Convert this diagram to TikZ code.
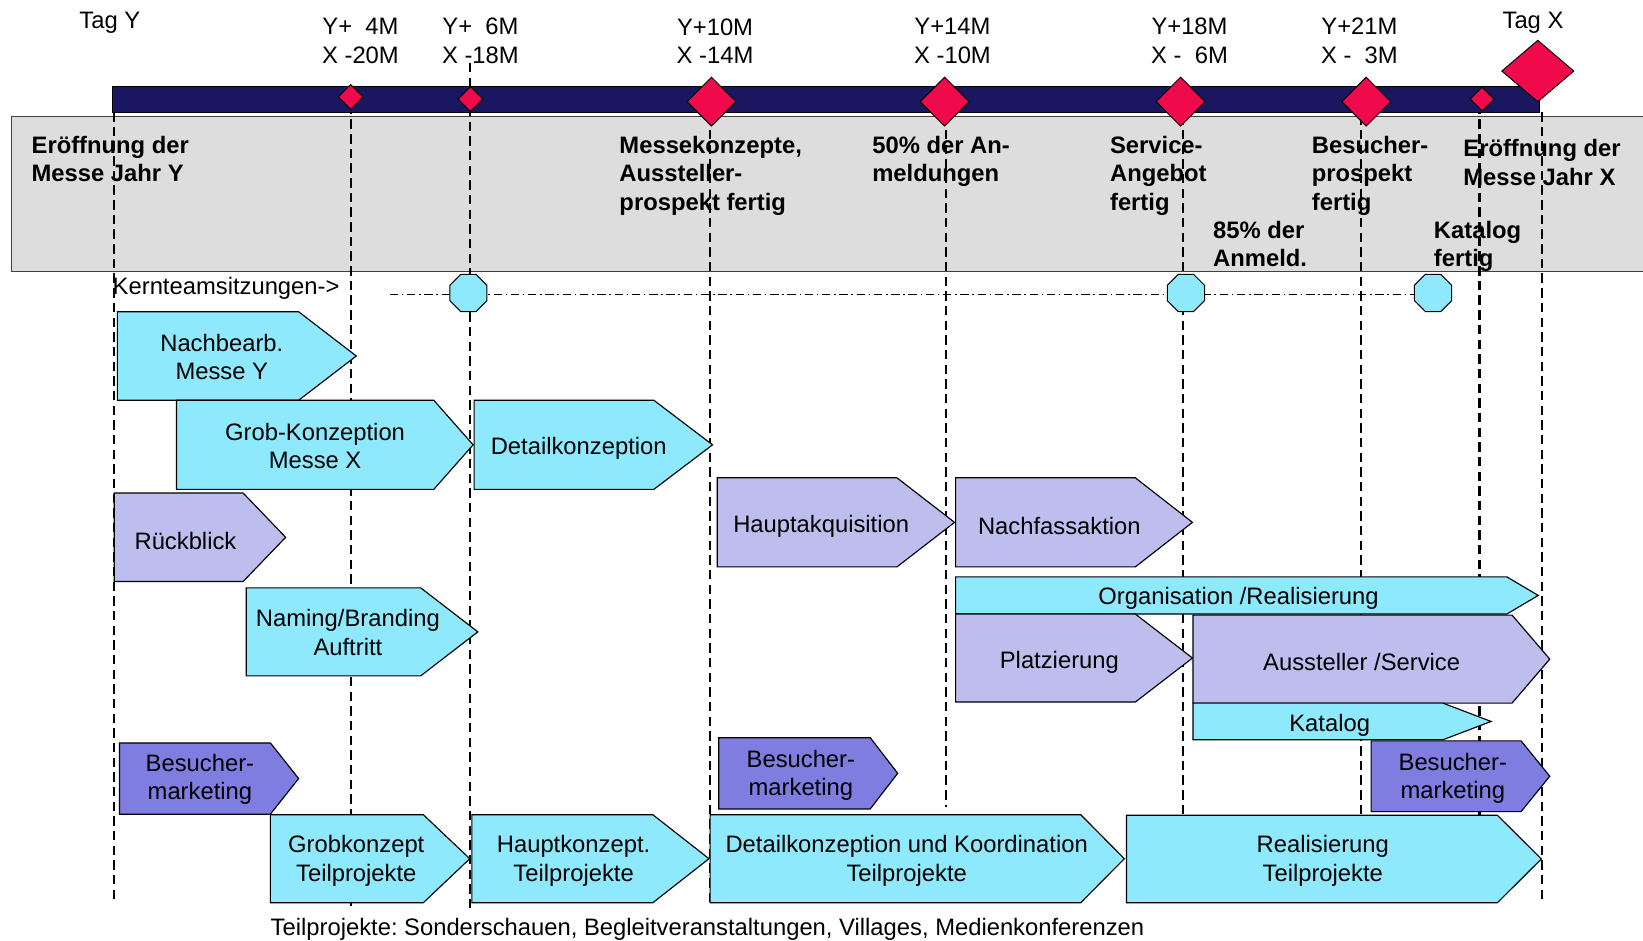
\documentclass[tikz,border=0pt]{standalone}
\usepackage{fontspec}
\setmainfont{Liberation Sans}
\usetikzlibrary{shapes.geometric}

\definecolor{barnavy}{RGB}{27,22,96}
\definecolor{mscrimson}{RGB}{240,10,75}
\definecolor{phcyan}{RGB}{143,233,253}
\definecolor{phlav}{RGB}{190,190,238}
\definecolor{phpurple}{RGB}{128,125,225}
\definecolor{panelgray}{RGB}{221,221,221}

% phase arrow: style, left, top, bottom, shoulder x, tip x
\newcommand{\phasearrow}[6]{%
  \path[#1] (#2,#3) -- (#5,#3) -- (#6,{(#3+#4)/2}) -- (#5,#4) -- (#2,#4) -- cycle;}

\begin{document}
\frenchspacing
\begin{tikzpicture}[x=1pt, y=-1pt,
  font=\fontsize{22.7}{27}\selectfont,
  panel/.style={fill=panelgray, draw=black!75, line width=0.8pt},
  timebar/.style={fill=barnavy, draw=black, line width=1.2pt},
  milestone/.style={diamond, fill=mscrimson, draw=black, line width=0.9pt,
    inner sep=0pt, minimum width=#1, minimum height=#1},
  guide/.style={draw=black, line width=2.2pt, dash pattern=on 9pt off 5pt},
  meetline/.style={draw=black, line width=1pt, dash pattern=on 8pt off 3.5pt on 1.5pt off 3.5pt},
  meeting/.style={regular polygon, regular polygon sides=8, minimum size=38.4pt,
    inner sep=0pt, fill=phcyan, draw=black, line width=1pt},
  cyanph/.style={fill=phcyan, draw=black, line width=1.1pt},
  lavph/.style={fill=phlav, draw=black, line width=1.1pt},
  purpph/.style={fill=phpurple, draw=black, line width=1.1pt},
  phtext/.style={align=center, inner sep=0pt, anchor=center, yshift=-2pt},
  tick/.style={align=center, inner sep=0pt, anchor=center},
  note/.style={align=left, inner sep=0pt, anchor=base west, font=\fontsize{22.7}{27}\selectfont\bfseries},
]
\useasboundingbox (0,0) rectangle (1568,898);

% milestone panel
\path[panel] (11,111) rectangle (1575,259);

% vertical guide lines of the milestones
\coordinate (gY)   at (108.5,107);  \coordinate (gYb)  at (108.5,862);
\coordinate (g4)   at (334.7,100);  \coordinate (g4b)  at (334.7,865);
\coordinate (g6)   at (448.5,60);   \coordinate (g6b)  at (448.5,870);
\coordinate (g10)  at (677.5,110);  \coordinate (g10b) at (677.5,864);
\coordinate (g14)  at (902.5,110);  \coordinate (g14b) at (902.5,770);
\coordinate (g18)  at (1129,110);   \coordinate (g18b) at (1129,865);
\coordinate (g21)  at (1299,110);   \coordinate (g21b) at (1299,780);
\coordinate (gK)   at (1412,100);   \coordinate (gKb)  at (1412,790);
\coordinate (gX)   at (1471.5,107); \coordinate (gXb)  at (1471.5,860);
\foreach \a/\b in {gY/gYb, g4/g4b, g6/g6b, g10/g10b, g14/g14b, g18/g18b, g21/g21b, gK/gKb, gX/gXb}
  \path[guide] (\a) -- (\b);

% time bar and milestones
\path[timebar] (107.4,82.7) rectangle (1469.4,107.2);
\node[milestone=24pt] (m4)  at (334.7,92.5) {};
\node[milestone=24pt] (m6)  at (449,94.5) {};
\node[milestone=47pt] (m10) at (679,97) {};
\node[milestone=47pt] (m14) at (901.5,97) {};
\node[milestone=47pt] (m18) at (1126.7,97) {};
\node[milestone=47pt] (m21) at (1303.8,97) {};
\node[milestone=23pt] (mK)  at (1414.4,94.5) {};
\node[milestone=47pt, minimum width=69pt, minimum height=59pt] (mX) at (1467.6,67.8) {};

% time labels
\node[tick] (tY)   at (104.8,21.5) {Tag Y};
\node[tick] (t4)   at (344,39) {Y+~ 4M\\X -20M};
\node[tick] (t6)   at (458.5,39) {Y+~ 6M\\X -18M};
\node[tick] (t10)  at (682.4,39) {Y+10M\\X -14M};
\node[tick] (t14)  at (909,39) {Y+14M\\X -10M};
\node[tick] (t18)  at (1135.2,39) {Y+18M\\X -~ 6M};
\node[tick] (t21)  at (1297.4,39) {Y+21M\\X -~ 3M};
\node[tick] (tX)   at (1463,21.5) {Tag X};

% milestone descriptions (anchored at the baseline of their last line)
\node[note] (nY)   at (30,173.5)    {Eröffnung der\\Messe Jahr Y};
\node[note] (n10)  at (591,200.5)   {Messekonzepte,\\Aussteller-\\prospekt fertig};
\node[note] (n14)  at (832.3,173.5) {50\% der An-\\meldungen};
\node[note] (n18)  at (1059.2,200.5){Service-\\Angebot\\fertig};
\node[note] (n85)  at (1157.6,254.5){85\% der\\Anmeld.};
\node[note] (n21)  at (1251.8,200.5){Besucher-\\prospekt\\fertig};
\node[note] (nX)   at (1396.4,176.7){Eröffnung der\\Messe Jahr X};
\node[note] (nK)   at (1368.3,254.5){Katalog\\fertig};

% core team meetings
\node[anchor=base west, inner sep=0pt] (kt) at (107.4,281.5) {Kernteamsitzungen->};
\coordinate (ktA) at (372,281);
\coordinate (ktB) at (1350,281);
\path[meetline] (ktA) -- (ktB);
\node[meeting] (k1) at (447,279.6) {};
\node[meeting] (k2) at (1131.8,279.6) {};
\node[meeting] (k3) at (1367.6,279.6) {};

% phases
\phasearrow{cyanph}{112}{297.5}{382}{285}{340}
\node[phtext] (p1) at (211.7,339) {Nachbearb.\\Messe Y};
\phasearrow{cyanph}{168.5}{382}{467}{414}{451.5}
\node[phtext] (p2) at (300.7,423.5) {Grob-Konzeption\\Messe X};
\phasearrow{cyanph}{452.5}{382}{467}{624}{680}
\node[phtext] (p3) at (552.3,426) {Detailkonzeption};
\phasearrow{lavph}{109}{470.5}{555}{232}{272.6}
\node[phtext] (p4) at (177,514.5) {Rückblick};
\phasearrow{cyanph}{235}{561}{645}{401.5}{456}
\node[phtext] (p5) at (332,601.6) {Naming/Branding\\Auftritt};
\phasearrow{lavph}{684.5}{456}{541}{856}{911}
\node[phtext] (p6) at (783.7,500.5) {Hauptakquisition};
\phasearrow{lavph}{912}{456}{541}{1083.5}{1138}
\node[phtext] (p7) at (1011,500) {Nachfassaktion};
\phasearrow{cyanph}{912}{550.5}{586}{1438}{1468}
\node[phtext] (p8) at (1182,569.5) {Organisation /Realisierung};
\phasearrow{lavph}{912}{586}{670}{1083.5}{1138}
\node[phtext] (p9) at (1011,630) {Platzierung};
\phasearrow{lavph}{1138.5}{587}{671}{1443}{1479}
\node[phtext] (p10) at (1299.5,629.5) {Aussteller /Service};
\phasearrow{cyanph}{1138.5}{671}{706}{1377}{1423}
\node[phtext] (p11) at (1269,690.5) {Katalog};
\phasearrow{purpph}{114}{709}{777}{258}{285}
\node[phtext] (p12) at (190.8,741.6) {Besucher-\\marketing};
\phasearrow{purpph}{686}{704}{772}{830.5}{856.7}
\node[phtext] (p13) at (764.3,737.7) {Besucher-\\marketing};
\phasearrow{purpph}{1308.5}{707}{774.6}{1451.6}{1479}
\node[phtext] (p14) at (1386.5,740.5) {Besucher-\\marketing};
\phasearrow{cyanph}{258}{777.5}{861.5}{404}{448.3}
\node[phtext] (p15) at (340,819.5) {Grobkonzept\\Teilprojekte};
\phasearrow{cyanph}{450.3}{777.5}{861.5}{623}{676.6}
\node[phtext] (p16) at (547.4,819.5) {Hauptkonzept.\\Teilprojekte};
\phasearrow{cyanph}{677.7}{777.5}{861.5}{1031.4}{1073}
\node[phtext] (p17) at (865.3,819.5) {Detailkonzeption und Koordination\\Teilprojekte};
\phasearrow{cyanph}{1075}{778}{861.5}{1429}{1471}
\node[phtext] (p18) at (1262.4,819.5) {Realisierung\\Teilprojekte};

% footnote
\node[phtext] (foot) at (675.2,884.5) {Teilprojekte: Sonderschauen, Begleitveranstaltungen, Villages, Medienkonferenzen};
\end{tikzpicture}
\end{document}
